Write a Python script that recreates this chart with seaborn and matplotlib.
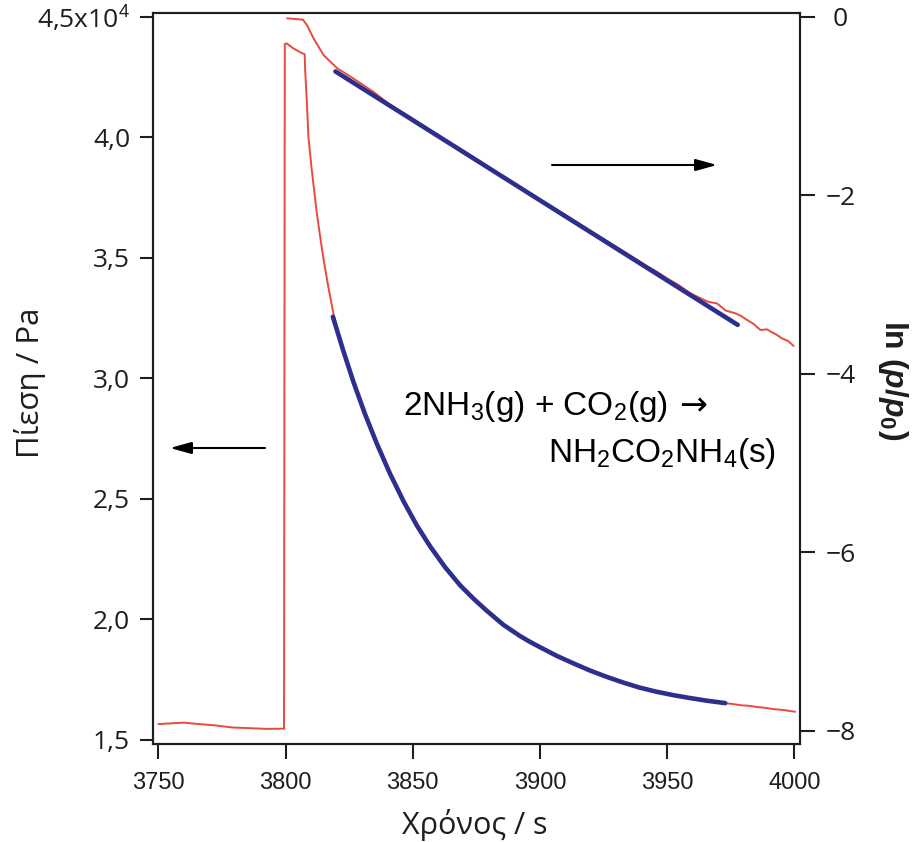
import matplotlib
matplotlib.use("Agg")
import matplotlib.pyplot as plt
import pandas as pd
import seaborn as sns

# ---------------- data (pressure in units of 10^4 Pa) ----------------
t_red_p = [3750, 3755, 3760, 3766, 3772, 3779, 3786, 3792.6, 3799.4,
           3799.7, 3800.5, 3803, 3806.4, 3807.5, 3807.7, 3808.4, 3809,
           3810.3, 3812.3, 3813.6, 3815, 3816.8, 3818.8, 3822.6, 3826.7,
           3831.2, 3835.9, 3841.0, 3846.4, 3851.6, 3856.9, 3862.7, 3868.6,
           3873.8, 3879.1, 3885.6, 3892.2, 3896.1, 3900.0, 3906.6, 3913.1,
           3919.7, 3926.2, 3932.8, 3939.3, 3945.9, 3952.4, 3959.0, 3965.6,
           3972.8, 3976, 3979, 3982, 3985.2, 3988, 3992, 3996, 4000.3]
p_red = [1.566, 1.569, 1.572, 1.566, 1.561, 1.552, 1.549, 1.546, 1.547,
         4.388, 4.390, 4.370, 4.350, 4.346, 4.280, 4.140, 4.000,
         3.865, 3.685, 3.589, 3.490, 3.380, 3.270, 3.118, 2.985,
         2.853, 2.729, 2.606, 2.490, 2.390, 2.302, 2.217, 2.142,
         2.087, 2.036, 1.978, 1.931, 1.907, 1.885, 1.849, 1.818,
         1.788, 1.762, 1.738, 1.717, 1.700, 1.686, 1.674, 1.663,
         1.653, 1.649, 1.644, 1.642, 1.637, 1.634, 1.628, 1.624, 1.617]

t_fit_p = [3818.6, 3822.6, 3826.7, 3831.2, 3835.9, 3841.0, 3846.4, 3851.6,
           3856.9, 3862.7, 3868.6, 3873.8, 3879.1, 3885.6, 3892.2, 3896.1,
           3900.0, 3906.6, 3913.1, 3919.7, 3926.2, 3932.8, 3939.3, 3945.9,
           3952.4, 3959.0, 3965.6, 3972.8]
p_fit = [3.256, 3.118, 2.985, 2.853, 2.729, 2.606, 2.490, 2.390,
         2.302, 2.217, 2.142, 2.087, 2.036, 1.978, 1.931, 1.907,
         1.885, 1.849, 1.818, 1.788, 1.762, 1.738, 1.717, 1.700,
         1.686, 1.674, 1.663, 1.653]

t_red_ln = [3800.6, 3806.8, 3808.4, 3811, 3815, 3820.3, 3826.7, 3834.6,
            3841.1, 3850, 3860, 3870, 3880, 3890, 3900, 3910, 3920, 3930,
            3937, 3942, 3946, 3950, 3954, 3959.1, 3963, 3966, 3969.6, 3973,
            3976.8, 3979, 3981.4, 3984, 3986.6, 3989.2, 3991, 3993.2, 3995,
            3997.5, 3999.7]
ln_red = [-0.015, -0.03, -0.09, -0.24, -0.43, -0.575, -0.69, -0.84,
          -0.986, -1.14, -1.325, -1.50, -1.685, -1.865, -2.045, -2.22,
          -2.40, -2.575, -2.70, -2.79, -2.855, -2.93, -2.995, -3.096,
          -3.15, -3.19, -3.21, -3.29, -3.32, -3.35, -3.395, -3.44, -3.507,
          -3.50, -3.53, -3.563, -3.60, -3.63, -3.686]

t_fit_ln = [3819.6, 3977.7]
ln_fit = [-0.61, -3.45]

x_ticks = [3750, 3800, 3850, 3900, 3950, 4000]
x_labels = ["3750", "3800", "3850", "3900", "3950", "4000"]
yl_ticks = [1.5, 2.0, 2.5, 3.0, 3.5, 4.0, 4.5]
yl_labels = ["1,5", "2,0", "2,5", "3,0", "3,5", "4,0", "4,5x10$^4$"]
yr_ticks = [0, -2, -4, -6, -8]
yr_labels = ["0", "\u22122", "\u22124", "\u22126", "\u22128"]

RED = "#e84a3b"
BLUE = "#2d2f8e"
INK = "#1e1e1e"

# ---------------- style ----------------
sns.set_style("ticks")
plt.rcParams["font.family"] = ["Open Sans", "DejaVu Sans"]
plt.rcParams["mathtext.fontset"] = "custom"
plt.rcParams["mathtext.rm"] = "Liberation Sans"
plt.rcParams["mathtext.it"] = "Liberation Sans:italic:bold"
plt.rcParams["mathtext.bf"] = "Liberation Sans:bold"
plt.rcParams["mathtext.sf"] = "Open Sans"

fig = plt.figure(figsize=(9.14, 8.42), dpi=100)
ax = fig.add_axes([0.1674, 0.1164, 0.7079, 0.8682])
ax2 = ax.twinx()

df_red_p = pd.DataFrame({"t": t_red_p, "p": p_red})
df_fit_p = pd.DataFrame({"t": t_fit_p, "p": p_fit})
df_red_ln = pd.DataFrame({"t": t_red_ln, "ln": ln_red})
df_fit_ln = pd.DataFrame({"t": t_fit_ln, "ln": ln_fit})

sns.lineplot(data=df_red_p, x="t", y="p", ax=ax, color=RED, lw=1.4,
             sort=False, estimator=None, zorder=2)
sns.lineplot(data=df_fit_p, x="t", y="p", ax=ax, color=BLUE, lw=3.3,
             sort=False, estimator=None, zorder=3)
sns.lineplot(data=df_red_ln, x="t", y="ln", ax=ax2, color=RED, lw=1.4,
             sort=False, estimator=None, zorder=2)
sns.lineplot(data=df_fit_ln, x="t", y="ln", ax=ax2, color=BLUE, lw=3.3,
             sort=False, estimator=None, zorder=3)

ax.set_xlim(3747.9, 4002.2)
ax.set_ylim(1.4834, 4.5166)
ax2.set_ylim(-8.146, 0.045)

for a in (ax, ax2):
    for s in a.spines.values():
        s.set_linewidth(1.5)
        s.set_color(INK)
    a.set_xlabel("")
    a.set_ylabel("")

ax.set_xticks(x_ticks)
ax.set_xticklabels(x_labels, fontfamily="Liberation Sans", fontsize=17, color=INK)
ax.set_yticks(yl_ticks)
ax.set_yticklabels(yl_labels, fontsize=19, color=INK)
ax2.set_yticks(yr_ticks)
ax2.set_yticklabels(yr_labels, fontsize=19, color=INK)
for lab in ax2.get_yticklabels():
    lab.set_horizontalalignment("center")

ax.tick_params(axis="x", direction="out", length=11, width=1.5, pad=9, color=INK)
ax.tick_params(axis="y", direction="out", length=9.5, width=1.5, pad=7, color=INK)
ax2.tick_params(axis="y", direction="out", length=11, width=1.5, pad=18, color=INK)

# axis titles
fig.text(475 / 914, 1 - 825 / 842, "Χρόνος / s", ha="center", va="center",
         fontsize=22, color=INK)
fig.text(30 / 914, 1 - 383 / 842, "Πίεση / Pa", ha="center", va="center",
         rotation=90, fontsize=22.5, color=INK)
fig.text(893 / 914, 1 - 380 / 842, r"ln ($p$/$p_\mathbf{0}$)", ha="center",
         va="center", rotation=270, fontsize=23, fontweight="bold",
         family=["Liberation Sans", "DejaVu Sans"], color=INK)

# reaction equation
fig.text(403 / 914, 1 - 415 / 842, "2NH$_3$(g) + CO$_2$(g)",
         ha="left", va="baseline", fontsize=24,
         family=["Liberation Sans", "DejaVu Sans"], color="black")
fig.text(679 / 914, 1 - 415 / 842, "\u2192",
         ha="left", va="baseline", fontsize=24,
         family=["DejaVu Sans"], color="black")
fig.text(548 / 914, 1 - 462 / 842, "NH$_2$CO$_2$NH$_4$(s)",
         ha="left", va="baseline", fontsize=24,
         family=["Liberation Sans", "DejaVu Sans"], color="black")

# axis-pointing arrows
arrow = dict(arrowstyle="-|>,head_length=0.65,head_width=0.18",
             lw=1.5, color="black", mutation_scale=20, shrinkA=0, shrinkB=0)
ax.annotate("", xy=(170 / 914, 1 - 448 / 842), xytext=(265 / 914, 1 - 448 / 842),
            xycoords="figure fraction", textcoords="figure fraction",
            arrowprops=arrow)
ax.annotate("", xy=(717 / 914, 1 - 165 / 842), xytext=(552 / 914, 1 - 165 / 842),
            xycoords="figure fraction", textcoords="figure fraction",
            arrowprops=arrow)

fig.savefig("out.png", dpi=100)
